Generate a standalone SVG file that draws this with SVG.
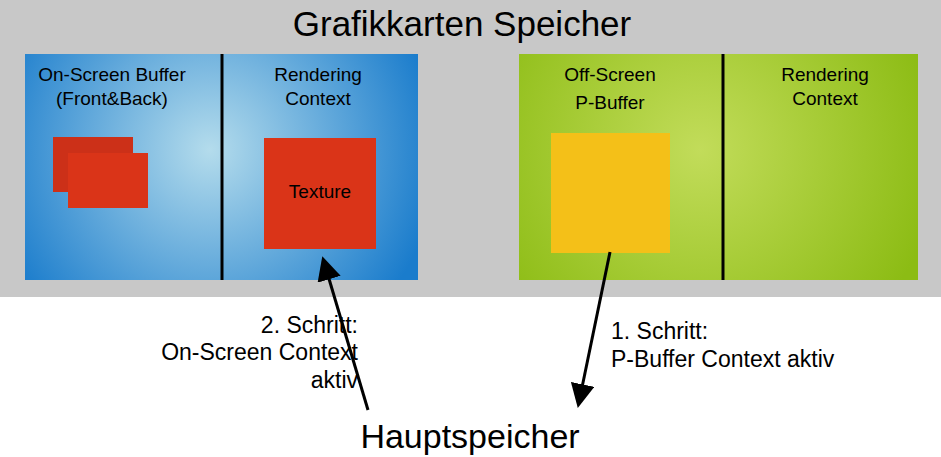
<svg xmlns="http://www.w3.org/2000/svg" width="941" height="457" viewBox="0 0 941 457">
<defs>
<radialGradient id="gb" cx="210" cy="150" r="230" gradientUnits="userSpaceOnUse"><stop offset="0" stop-color="#b4dcec"/><stop offset="1" stop-color="#1a7ccc"/></radialGradient>
<radialGradient id="gg" cx="700" cy="150" r="240" gradientUnits="userSpaceOnUse"><stop offset="0" stop-color="#c2dc5a"/><stop offset="1" stop-color="#8cbc14"/></radialGradient>
<marker id="ah" markerWidth="8" markerHeight="8" refX="6" refY="4" orient="auto" markerUnits="strokeWidth"><path d="M0,0 L8,4 L0,8 z" fill="#000"/></marker>
<style>
text{font-family:"Liberation Sans",Arial,sans-serif;fill:#000}
.l{font-size:19px;text-anchor:middle}
.s{font-size:23px}
.div{stroke:#000;stroke-width:3}
.c{stroke:#000;stroke-width:3;fill:none;marker-end:url(#ah)}
</style>
</defs>
<rect width="941" height="457" fill="#fff"/>
<rect width="941" height="297" fill="#c8c8c8"/>
<text x="462" y="36" font-size="35" text-anchor="middle">Grafikkarten Speicher</text>
<g id="onscreen">
<rect x="25" y="54" width="393" height="226" fill="url(#gb)"/>
<line class="div" x1="222" y1="54" x2="222" y2="280"/>
<text class="l" x="112" y="81">On-Screen Buffer</text>
<text class="l" x="112" y="105">(Front&amp;Back)</text>
<text class="l" x="318" y="81">Rendering</text>
<text class="l" x="318" y="105">Context</text>
<rect x="53" y="137" width="80" height="55" fill="#cc3018"/>
<rect x="68" y="153" width="80" height="55" fill="#da3418"/>
</g>
<g id="texture">
<rect x="264" y="138" width="112" height="111" fill="#da3418"/>
<text class="l" x="320" y="198">Texture</text>
</g>
<g id="offscreen">
<rect x="519" y="54" width="399" height="226" fill="url(#gg)"/>
<line class="div" x1="723" y1="54" x2="723" y2="280"/>
<text class="l" x="610" y="81">Off-Screen</text>
<text class="l" x="610" y="109">P-Buffer</text>
<text class="l" x="825" y="81">Rendering</text>
<text class="l" x="825" y="105">Context</text>
<rect x="551" y="133" width="119" height="120" fill="#f4c018"/>
</g>
<g id="main"><text x="470" y="448" font-size="34" text-anchor="middle">Hauptspeicher</text></g>
<g id="connectors">
<line class="c" x1="368" y1="410" x2="324" y2="262"/>
<line class="c" x1="610" y1="252" x2="579" y2="402"/>
<text class="s" x="358" y="333" text-anchor="end">2. Schritt:</text>
<text class="s" x="358" y="360" text-anchor="end">On-Screen Context</text>
<text class="s" x="358" y="388" text-anchor="end">aktiv</text>
<text class="s" x="611" y="339">1. Schritt:</text>
<text class="s" x="611" y="367">P-Buffer Context aktiv</text>
</g>
</svg>
